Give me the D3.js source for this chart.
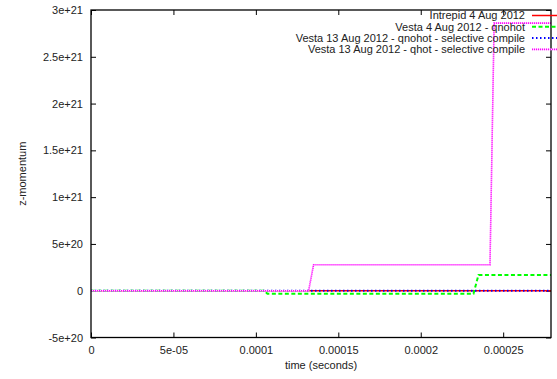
<!DOCTYPE html>
<html>
<head>
<meta charset="utf-8">
<script src="https://cdn.jsdelivr.net/npm/d3@7"></script>
<style>
  html, body { margin: 0; padding: 0; background: #fff; }
  svg { display: block; font-family: "Liberation Sans", Arial, sans-serif; }
</style>
</head>
<body>
<svg id="chart" width="557" height="379"></svg>
<script>
// Tick positions and their printed labels
const xTickValues = [0, 5e-5, 1e-4, 1.5e-4, 2e-4, 2.5e-4];
const xTickLabels = ["0", "5e-05", "0.0001", "0.00015", "0.0002", "0.00025"];
const yTickValues = [-5e20, 0, 5e20, 1e21, 1.5e21, 2e21, 2.5e21, 3e21];
const yTickLabels = ["-5e+20", "0", "5e+20", "1e+21", "1.5e+21", "2e+21", "2.5e+21", "3e+21"];

// Series: time (s) and z-momentum
const seriesNames = [
  "Intrepid 4 Aug 2012",
  "Vesta 4 Aug 2012 - qnohot",
  "Vesta 13 Aug 2012 - qnohot - selective compile",
  "Vesta 13 Aug 2012 - qhot - selective compile"
];
const intrepidTime = [0, 2.79e-4];
const intrepidValue = [0, 0];
const vestaQnohotTime = [0, 1.05e-4, 1.07e-4, 2.32e-4, 2.35e-4, 2.79e-4];
const vestaQnohotValue = [0, 0, -3.2e19, -3.2e19, 1.68e20, 1.68e20];
const vestaSelTime = [0, 2.79e-4];
const vestaSelValue = [0, 0];
const vestaQhotTime = [0, 1.32e-4, 1.35e-4, 2.42e-4, 2.445e-4, 2.79e-4];
const vestaQhotValue = [0, 0, 2.78e20, 2.78e20, 2.86e21, 2.86e21];

const seriesColors = ["#ff0000", "#00ff00", "#0000ff", "#ff00ff"];
const seriesUnder = [null, null, null, "#ffd0ff"];
const seriesDash = [null, "4,2.5", "1.5,2.5", "1,1"];
const seriesWidth = [1.5, 2, 2, 1.6];

const width = 557, height = 379;
const margin = { left: 91, right: 6, top: 10, bottom: 41.5 };
const svg = d3.select("#chart");

const x = d3.scaleLinear().domain([0, 2.79e-4]).range([margin.left, width - margin.right]);
const y = d3.scaleLinear().domain([-5e20, 3e21]).range([height - margin.bottom, margin.top]);

const tickLen = 5;

// Axes with inward ticks on all four sides
const xBottom = d3.axisBottom(x).tickValues(xTickValues)
  .tickFormat((d, i) => xTickLabels[i]).tickSizeInner(-tickLen).tickSizeOuter(0).tickPadding(9);
const xTop = d3.axisTop(x).tickValues(xTickValues)
  .tickFormat("").tickSizeInner(-tickLen).tickSizeOuter(0);
const yLeft = d3.axisLeft(y).tickValues(yTickValues)
  .tickFormat((d, i) => yTickLabels[i]).tickSizeInner(-tickLen).tickSizeOuter(0).tickPadding(8);
const yRight = d3.axisRight(y).tickValues(yTickValues)
  .tickFormat("").tickSizeInner(-tickLen).tickSizeOuter(0);

function styleAxis(g) {
  g.select(".domain").remove();
  g.selectAll(".tick line").attr("stroke", "#000").attr("stroke-width", 1);
  g.selectAll(".tick text").attr("fill", "#222").style("font-size", "11px");
}

svg.append("g").attr("transform", `translate(0,${height - margin.bottom})`).call(xBottom).call(styleAxis);
svg.append("g").attr("transform", `translate(0,${margin.top})`).call(xTop).call(styleAxis);
svg.append("g").attr("transform", `translate(${margin.left},0)`).call(yLeft).call(styleAxis);
svg.append("g").attr("transform", `translate(${width - margin.right},0)`).call(yRight).call(styleAxis);

// Axis titles
svg.append("text")
  .attr("x", (x.range()[0] + x.range()[1]) / 2)
  .attr("y", 369)
  .attr("text-anchor", "middle")
  .attr("fill", "#222")
  .style("font-size", "11px")
  .text("time (seconds)");
svg.append("text")
  .attr("transform", `translate(26,${(y.range()[0] + y.range()[1]) / 2}) rotate(-90)`)
  .attr("text-anchor", "middle")
  .attr("fill", "#222")
  .style("font-size", "11px")
  .text("z-momentum");

// Data lines
const series = [
  { t: intrepidTime, v: intrepidValue },
  { t: vestaQnohotTime, v: vestaQnohotValue },
  { t: vestaSelTime, v: vestaSelValue },
  { t: vestaQhotTime, v: vestaQhotValue }
];
const line = d3.line().x(d => x(d[0])).y(d => y(d[1]));

function strokeLine(sel, i) {
  return sel.attr("fill", "none")
    .attr("stroke", seriesColors[i])
    .attr("stroke-width", seriesWidth[i])
    .attr("stroke-dasharray", seriesDash[i]);
}

series.forEach((s, i) => {
  const pts = s.t.map((t, k) => [t, s.v[k]]);
  if (seriesUnder[i]) {
    svg.append("path").datum(pts).attr("d", line)
      .attr("fill", "none").attr("stroke", seriesUnder[i]).attr("stroke-width", seriesWidth[i]);
  }
  svg.append("path").datum(pts).attr("d", line).call(strokeLine, i);
});

// Plot border
svg.append("rect")
  .attr("x", margin.left).attr("y", margin.top)
  .attr("width", width - margin.left - margin.right)
  .attr("height", height - margin.top - margin.bottom)
  .attr("fill", "none").attr("stroke", "#000").attr("stroke-width", 1.3);

// Legend (top right)
const legend = svg.append("g");
seriesNames.forEach((name, i) => {
  const yy = 15.5 + i * 11.3;
  legend.append("text")
    .attr("x", 525).attr("y", yy).attr("dy", "0.35em")
    .attr("text-anchor", "end")
    .attr("fill", "#222")
    .style("font-size", "11px")
    .text(name);
  if (seriesUnder[i]) {
    legend.append("line")
      .attr("x1", 532).attr("x2", 570).attr("y1", yy).attr("y2", yy)
      .attr("stroke", seriesUnder[i]).attr("stroke-width", seriesWidth[i]);
  }
  legend.append("line")
    .attr("x1", 532).attr("x2", 570).attr("y1", yy).attr("y2", yy)
    .call(strokeLine, i);
});
</script>
</body>
</html>
